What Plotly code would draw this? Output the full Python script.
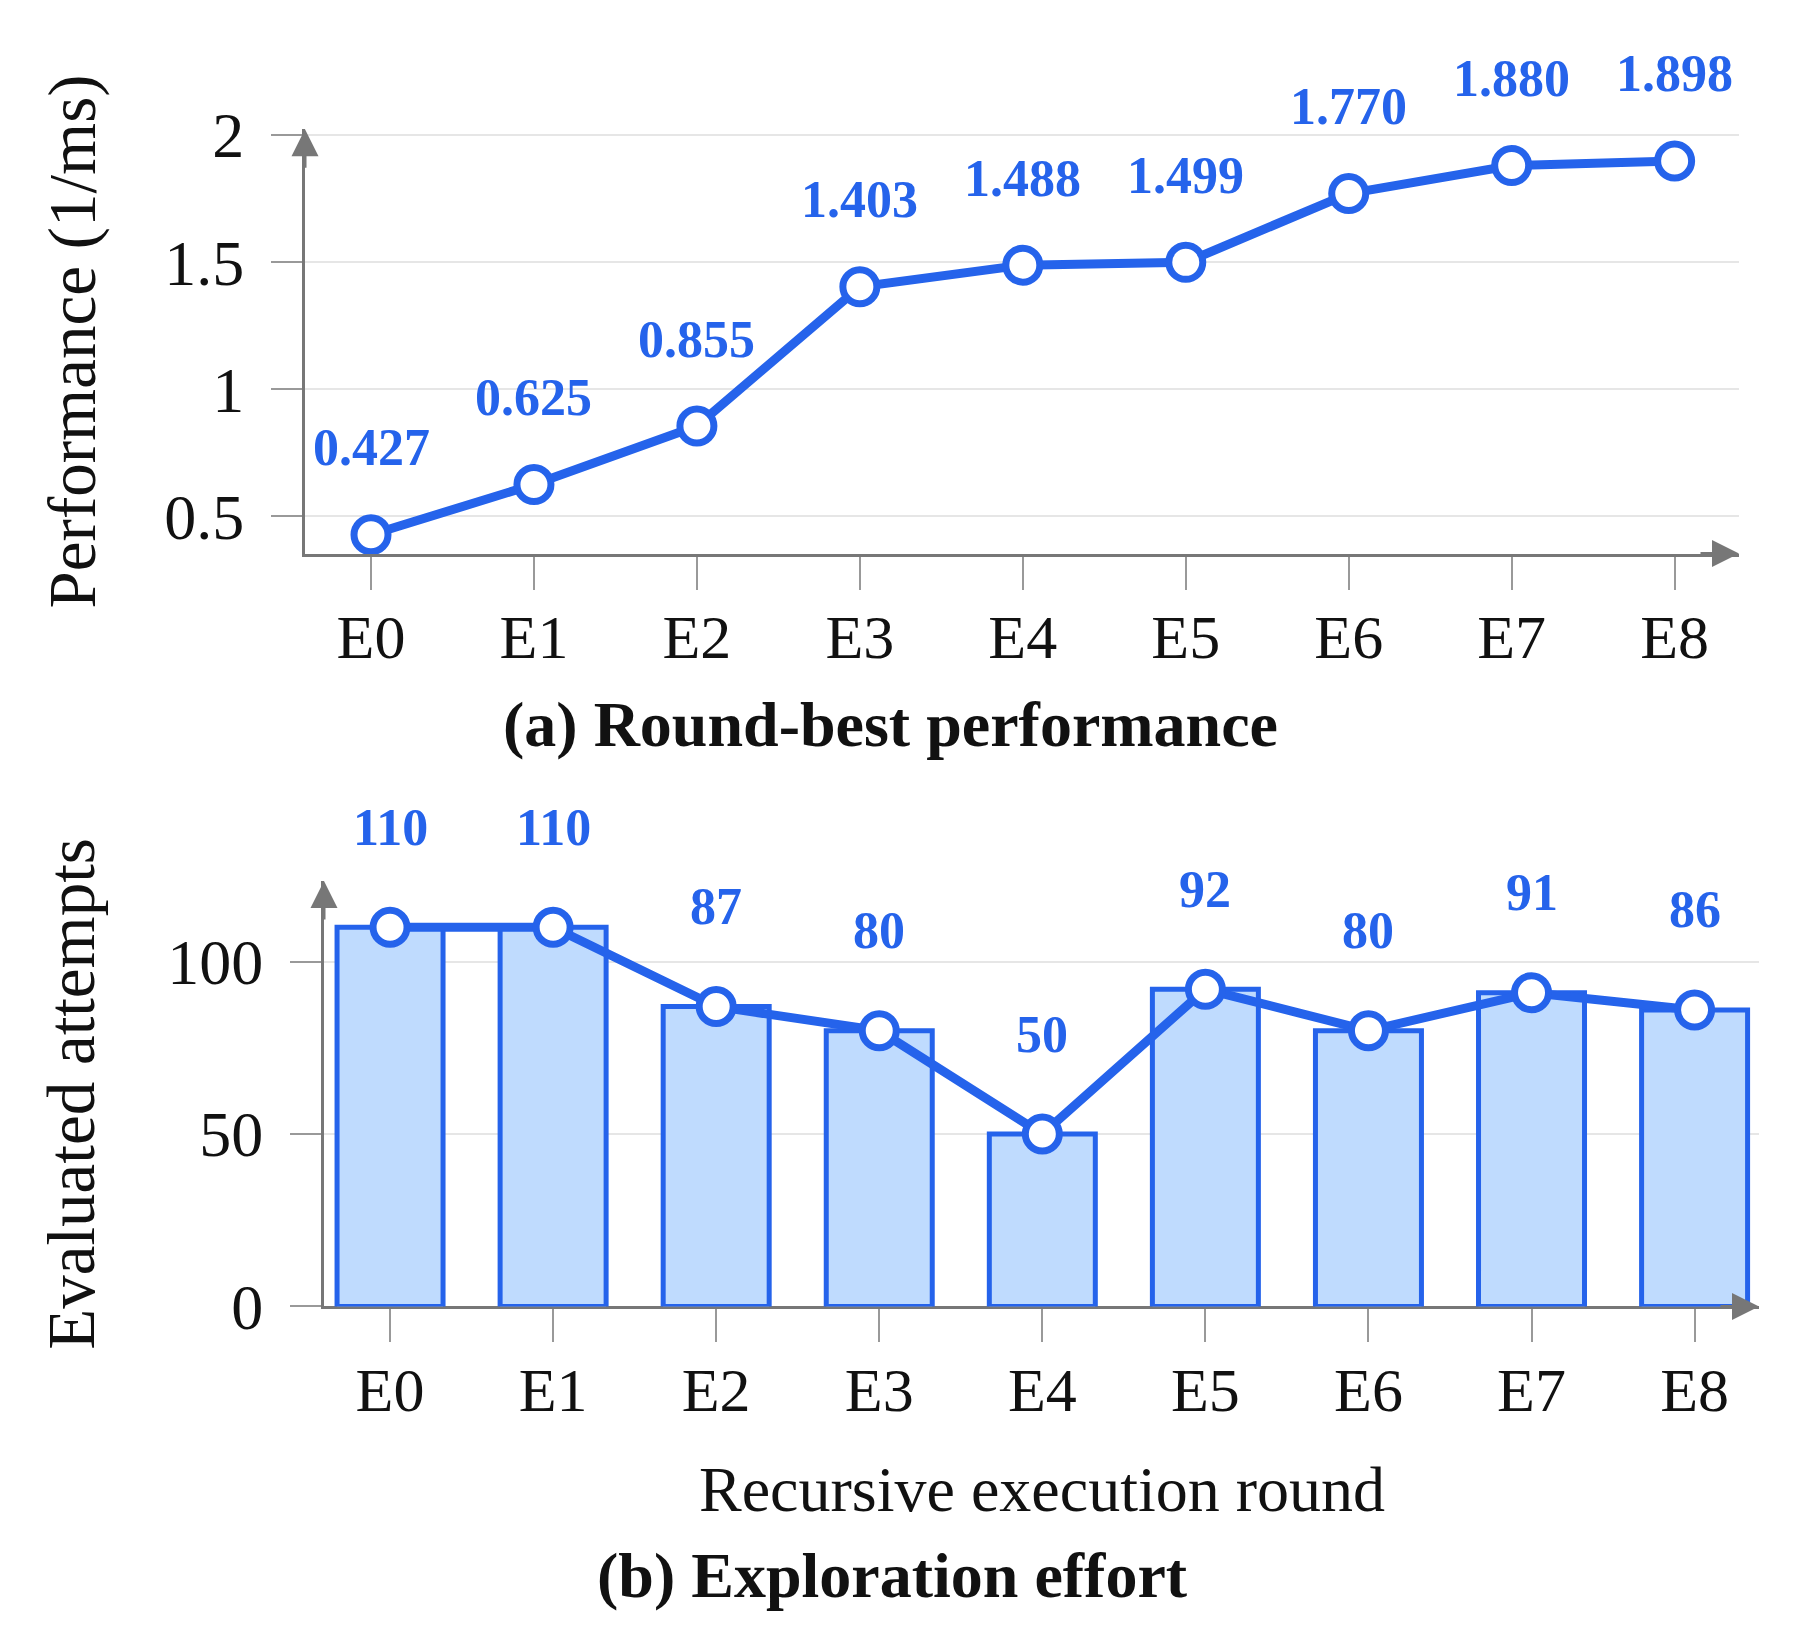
import plotly.graph_objects as go

rounds = ["E0", "E1", "E2", "E3", "E4", "E5", "E6", "E7", "E8"]
performance = [0.427, 0.625, 0.855, 1.403, 1.488, 1.499, 1.770, 1.880, 1.898]
attempts = [110, 110, 87, 80, 50, 92, 80, 91, 86]
perf_ticks = [0.5, 1, 1.5, 2]
perf_ticktext = ["0.5", "1", "1.5", "2"]
att_ticks = [0, 50, 100]

BLUE = "#2563EB"
LIGHT = "#BFDBFE"
GRAY = "#777777"
GRID = "#E6E6E6"
FONT = "Liberation Serif"
W, H = 1800, 1634

xi = list(range(len(rounds)))

fig = go.Figure()

fig.add_trace(go.Bar(x=xi, y=attempts, width=0.65, marker=dict(color=LIGHT, line=dict(color=BLUE, width=5)),
                     xaxis="x2", yaxis="y2", showlegend=False))
fig.add_trace(go.Scatter(x=xi, y=performance, mode="lines+markers",
                         line=dict(color=BLUE, width=9),
                         marker=dict(size=34, color="white", line=dict(color=BLUE, width=7)),
                         xaxis="x", yaxis="y", showlegend=False, cliponaxis=False))
fig.add_trace(go.Scatter(x=xi, y=attempts, mode="lines+markers",
                         line=dict(color=BLUE, width=9),
                         marker=dict(size=34, color="white", line=dict(color=BLUE, width=7)),
                         xaxis="x2", yaxis="y2", showlegend=False, cliponaxis=False))

XR = [-0.405, 8.395]
common_x = dict(range=XR, tickvals=xi, ticktext=rounds, showgrid=False, zeroline=False,
                showline=True, linecolor=GRAY, linewidth=3, ticks="outside", ticklen=33,
                tickcolor="#999999", tickwidth=1.5, tickfont=dict(family=FONT, size=62, color="#111"),
                ticklabelstandoff=-6)
common_y = dict(showgrid=True, gridcolor=GRID, gridwidth=2, zeroline=False,
                showline=True, linecolor=GRAY, linewidth=3, ticks="outside", ticklen=31,
                tickcolor="#999999", tickwidth=1.5, tickfont=dict(family=FONT, size=64, color="#111"),
                ticklabelstandoff=14)

TOP_T, TOP_B = 96, 538
BOT_T, BOT_B = 879, 1322
YR_TOP = [0.353, 2.023]
YR_BOT = [0, 123.4]
TX = [297, 1731]
BX = [316, 1751]

fig.update_layout(
    width=W, height=H, margin=dict(l=0, r=0, t=0, b=0),
    paper_bgcolor="white", plot_bgcolor="white",
    xaxis=dict(domain=[TX[0] / W, TX[1] / W], anchor="y", **common_x),
    yaxis=dict(domain=[1 - TOP_B / H, 1 - TOP_T / H], anchor="x", range=YR_TOP,
               tickvals=perf_ticks, ticktext=perf_ticktext, **common_y),
    xaxis2=dict(domain=[BX[0] / W, BX[1] / W], anchor="y2", layer="below traces", **common_x),
    yaxis2=dict(domain=[1 - BOT_B / H, 1 - BOT_T / H], anchor="x2", range=YR_BOT,
                tickvals=att_ticks, layer="below traces", **common_y),
)

ann = []
for x, v in zip(xi, performance):
    ann.append(dict(x=x, y=v, xref="x", yref="y", text=f"<b>{v:.3f}</b>", showarrow=False,
                    xanchor="center", yanchor="middle",
                    yshift=87, font=dict(family=FONT, size=52, color=BLUE)))
for x, v in zip(xi, attempts):
    ann.append(dict(x=x, y=v, xref="x2", yref="y2", text=f"<b>{v}</b>", showarrow=False,
                    xanchor="center", yanchor="middle",
                    yshift=100, font=dict(family=FONT, size=52, color=BLUE)))

# axis arrow heads
arrow = dict(showarrow=True, arrowhead=2, arrowsize=1.8, arrowwidth=3, arrowcolor=GRAY, text="")
ann.append(dict(x=XR[1], y=YR_TOP[0], xref="x", yref="y", ax=-40, ay=0, **arrow))
ann.append(dict(x=XR[0], y=YR_TOP[1], xref="x", yref="y", ax=0, ay=40, **arrow))
ann.append(dict(x=XR[1], y=0, xref="x2", yref="y2", ax=-40, ay=0, **arrow))
ann.append(dict(x=XR[0], y=YR_BOT[1], xref="x2", yref="y2", ax=0, ay=40, **arrow))

txt = dict(showarrow=False, xref="paper", yref="paper", xanchor="center", yanchor="middle")
ann.append(dict(x=64 / W, y=1 - (TOP_T + TOP_B) / 2 / H, text="Performance (1/ms)", textangle=-90,
                font=dict(family=FONT, size=67, color="#111"), **txt))
ann.append(dict(x=63 / W, y=1 - (BOT_T + BOT_B) / 2 / H, text="Evaluated attempts", textangle=-90,
                font=dict(family=FONT, size=67, color="#111"), **txt))
ann.append(dict(x=(BX[0] + BX[1]) / 2 / W, y=1 - 1513 / H, text="Recursive execution round",
                font=dict(family=FONT, size=64, color="#111"), **txt))
ann.append(dict(x=882 / W, y=1 - 716 / H, text="<b>(a) Round-best performance</b>",
                font=dict(family=FONT, size=64, color="#111"), **txt))
ann.append(dict(x=884 / W, y=1 - 1602 / H, text="<b>(b) Exploration effort</b>",
                font=dict(family=FONT, size=64, color="#111"), **txt))

fig.update_layout(annotations=ann)
fig.write_html("out.html")
